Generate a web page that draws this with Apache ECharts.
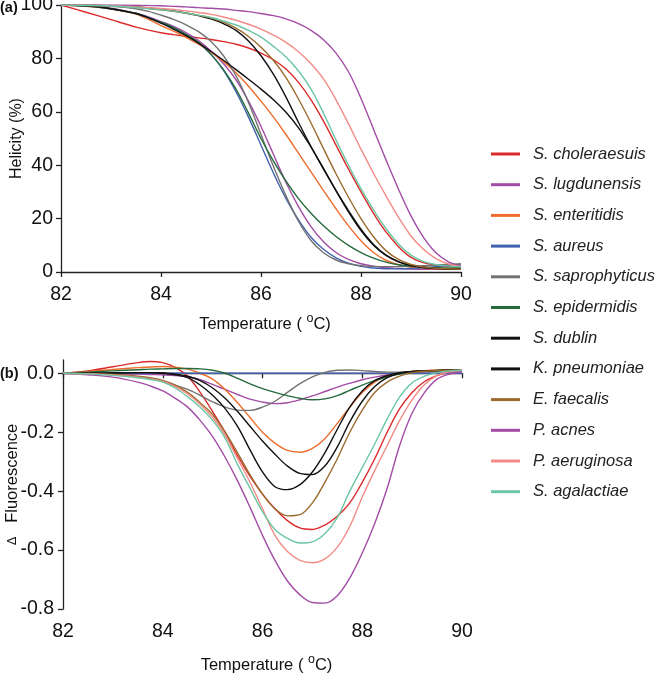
<!DOCTYPE html>
<html><head><meta charset="utf-8">
<script src="https://cdn.jsdelivr.net/npm/echarts@6/dist/echarts.min.js"></script>
<style>html,body{margin:0;padding:0;background:#fff}#c{width:657px;height:674px}</style>
</head><body><div id="c"></div>
<script>
// ---------- data ----------
const temperature = [82, 82.5, 83, 83.5, 83.75, 84, 84.25, 84.5, 84.75, 85, 85.25, 85.5, 85.75, 86, 86.25, 86.5, 86.75, 87, 87.25, 87.5, 87.75, 88, 88.25, 88.5, 88.75, 89, 89.25, 89.5, 89.75, 90];
const xTicks = [82, 84, 86, 88, 90];
const helicityTicks = [0, 20, 40, 60, 80, 100];
const fluorTicks = [-0.8, -0.6, -0.4, -0.2, 0];
const names = ['S. choleraesuis', 'S. lugdunensis', 'S. enteritidis', 'S. aureus', 'S. saprophyticus', 'S. epidermidis', 'S. dublin', 'K. pneumoniae', 'E. faecalis', 'P. acnes', 'P. aeruginosa', 'S. agalactiae'];
const colors = ['#dc2a2a', '#a24ca6', '#ee6c2c', '#4160ae', '#727272', '#256b3c', '#111111', '#111111', '#9c6a2e', '#a24ca6', '#f28b86', '#6cc6a4'];

// Helicity (%)
const helCholeraesuis = [100, 97.3, 94.5, 91.7, 90.6, 89.6, 88.9, 88.3, 87.7, 87.1, 86.3, 85.3, 83.9, 82, 79.5, 76, 71, 64.5, 56.5, 47.5, 38.5, 30, 22, 15, 9.5, 5.5, 3.5, 2.5, 2, 2];
const helLugdunensis = [100, 99.7, 98.8, 96.9, 95.5, 93.8, 92, 89.7, 86.7, 82.8, 78, 72, 64, 54.5, 44, 33.5, 24.5, 17, 11.3, 7.3, 4.7, 3.1, 2.2, 1.6, 1.3, 1.1, 1, 1, 1, 1];
const helEnteritidis = [100, 99.5, 98.5, 96.6, 94.6, 92.3, 90.2, 87.9, 85.3, 82.3, 78.8, 74.6, 69.6, 64, 58, 51.5, 44.5, 37.5, 30.5, 23.7, 17.3, 11.7, 7.3, 4.4, 2.7, 1.8, 1.4, 1.2, 1, 1];
const helAureus = [100, 99.6, 98.6, 96.8, 95.3, 93.5, 91.5, 89, 86, 81.5, 75.5, 67.5, 58, 47.5, 37, 27.5, 19.5, 13, 8.5, 5.3, 3.3, 2.1, 1.5, 1.2, 1.2, 1.3, 1.6, 2, 2.5, 3];
const helSaprophyticus = [100, 99.9, 99.5, 98.6, 97.6, 96.2, 94.6, 92.6, 90, 86.3, 81, 73.5, 63.5, 51.5, 39.5, 28.5, 19, 11.8, 7.2, 4.5, 3.1, 2.4, 2.1, 2, 2, 2.2, 2.4, 2.6, 2.8, 3];
const helEpidermidis = [100, 99.6, 98.6, 96.8, 95.3, 93.5, 91.5, 89, 86, 81.5, 75.8, 68.5, 59.5, 50, 41.5, 34, 27.5, 22, 17.3, 13.3, 10, 7.3, 5.2, 3.7, 2.7, 2.1, 1.8, 1.6, 1.5, 1.5];
const helDublin = [100, 99.8, 98.6, 96.8, 95.2, 93.2, 91, 88.5, 85.7, 82.6, 79.3, 75.8, 72.2, 68.5, 64.5, 59.8, 54, 46.8, 38.8, 30.5, 22.5, 15.5, 10, 6.2, 3.8, 2.4, 1.7, 1.3, 1.1, 1];
const helPneumoniae = [100, 99.9, 99.7, 99.3, 98.9, 98.4, 97.8, 97, 96, 94.8, 93, 90.5, 86.5, 81, 74, 65.5, 56, 47, 38.5, 30.5, 23, 16, 10.3, 6.3, 3.9, 2.5, 1.8, 1.4, 1.2, 1];
const helFaecalis = [100, 99.9, 99.6, 99.1, 98.7, 98.2, 97.6, 96.9, 96.1, 95.2, 93.6, 91.3, 88.2, 84.2, 79.2, 72.8, 64.8, 55.8, 46.2, 36.8, 28, 20, 13.2, 8, 4.7, 2.8, 1.9, 1.4, 1.2, 1];
const helAcnes = [100, 100, 100, 99.9, 99.8, 99.7, 99.5, 99.3, 99, 98.8, 98.5, 98, 97.5, 96.8, 96, 94.8, 93, 90.5, 87, 82, 75, 65, 53.5, 42, 31, 21, 13, 7.2, 3.8, 2.2];
const helAeruginosa = [100, 99.9, 99.7, 99.3, 99, 98.7, 98.3, 97.8, 97.2, 96.5, 95.5, 94.3, 92.8, 91, 88.7, 86, 82.5, 78, 72.3, 64.5, 55.5, 46, 37, 28.5, 20.5, 13.5, 8.5, 5, 3, 2];
const helAgalactiae = [100, 99.9, 99.6, 99, 98.6, 98.2, 97.7, 97, 96.2, 95.3, 94, 92.5, 90.5, 88, 84.5, 80.5, 75.3, 68.5, 59.5, 49.5, 40, 31.2, 23.3, 16.3, 10.5, 6.3, 3.9, 2.8, 2.2, 2];

// Delta fluorescence
const fluCholeraesuis = [0, 0.008, 0.022, 0.036, 0.04, 0.036, 0.02, -0.01, -0.065, -0.13, -0.2, -0.28, -0.35, -0.41, -0.46, -0.5, -0.525, -0.53, -0.515, -0.485, -0.44, -0.37, -0.29, -0.2, -0.12, -0.065, -0.028, -0.008, 0.003, 0.008];
const fluLugdunensis = [0, -0.001, -0.002, -0.003, -0.004, -0.005, -0.008, -0.012, -0.022, -0.038, -0.055, -0.072, -0.088, -0.098, -0.103, -0.1, -0.09, -0.077, -0.062, -0.047, -0.034, -0.022, -0.013, -0.006, -0.001, 0.003, 0.005, 0.006, 0.007, 0.008];
const fluEnteritidis = [0, 0.006, 0.013, 0.019, 0.021, 0.023, 0.021, 0.014, 0, -0.02, -0.055, -0.1, -0.15, -0.2, -0.237, -0.262, -0.268, -0.255, -0.222, -0.17, -0.115, -0.065, -0.03, -0.01, 0, 0.006, 0.009, 0.011, 0.012, 0.012];
const fluAureus = [0, 0, 0, 0, 0, 0, 0, 0, 0, 0, 0, 0, 0, 0, 0, 0, 0, 0, 0, 0, 0, 0, 0, 0, 0, 0, 0, 0, 0, 0];
const fluSaprophyticus = [0, -0.002, -0.005, -0.012, -0.018, -0.028, -0.04, -0.055, -0.075, -0.097, -0.115, -0.125, -0.126, -0.115, -0.095, -0.065, -0.035, -0.012, 0.003, 0.01, 0.011, 0.009, 0.006, 0.004, 0.004, 0.005, 0.006, 0.007, 0.008, 0.009];
const fluEpidermidis = [0, 0.004, 0.008, 0.012, 0.014, 0.015, 0.016, 0.016, 0.015, 0.01, 0, -0.017, -0.036, -0.052, -0.065, -0.076, -0.085, -0.09, -0.087, -0.076, -0.058, -0.04, -0.025, -0.012, -0.003, 0.003, 0.007, 0.01, 0.011, 0.012];
const fluDublin = [0, 0, 0.001, 0.002, 0.002, 0.001, -0.003, -0.01, -0.025, -0.05, -0.085, -0.13, -0.18, -0.23, -0.275, -0.315, -0.34, -0.344, -0.315, -0.25, -0.165, -0.095, -0.045, -0.015, 0, 0.006, 0.008, 0.009, 0.01, 0.01];
const fluPneumoniae = [0, 0, 0.001, 0.002, 0.002, 0, -0.005, -0.015, -0.04, -0.075, -0.12, -0.18, -0.26, -0.335, -0.385, -0.395, -0.378, -0.335, -0.27, -0.19, -0.115, -0.06, -0.025, -0.008, 0.002, 0.006, 0.008, 0.009, 0.01, 0.01];
const fluFaecalis = [0, -0.001, -0.004, -0.01, -0.015, -0.024, -0.04, -0.065, -0.1, -0.14, -0.2, -0.27, -0.345, -0.41, -0.46, -0.484, -0.48, -0.44, -0.37, -0.29, -0.2, -0.125, -0.065, -0.03, -0.01, 0.002, 0.007, 0.009, 0.01, 0.011];
const fluAcnes = [0, -0.005, -0.013, -0.03, -0.043, -0.06, -0.085, -0.115, -0.16, -0.215, -0.285, -0.365, -0.455, -0.55, -0.635, -0.705, -0.752, -0.778, -0.78, -0.755, -0.695, -0.61, -0.51, -0.39, -0.245, -0.135, -0.065, -0.02, -0.003, 0.005];
const fluAeruginosa = [0, -0.002, -0.006, -0.013, -0.019, -0.028, -0.045, -0.07, -0.105, -0.15, -0.21, -0.29, -0.37, -0.46, -0.55, -0.605, -0.635, -0.643, -0.63, -0.59, -0.52, -0.42, -0.33, -0.245, -0.16, -0.09, -0.038, -0.008, 0.005, 0.01];
const fluAgalactiae = [0, -0.002, -0.007, -0.015, -0.021, -0.03, -0.05, -0.08, -0.115, -0.16, -0.22, -0.31, -0.39, -0.47, -0.53, -0.56, -0.576, -0.572, -0.545, -0.49, -0.4, -0.32, -0.24, -0.155, -0.08, -0.032, -0.01, 0.002, 0.008, 0.01];

const helicitySets = [helCholeraesuis, helLugdunensis, helEnteritidis, helAureus, helSaprophyticus, helEpidermidis, helDublin, helPneumoniae, helFaecalis, helAcnes, helAeruginosa, helAgalactiae];
const fluorSets = [fluCholeraesuis, fluLugdunensis, fluEnteritidis, fluAureus, fluSaprophyticus, fluEpidermidis, fluDublin, fluPneumoniae, fluFaecalis, fluAcnes, fluAeruginosa, fluAgalactiae];

// ---------- chart ----------
const FONT = 'Liberation Sans, Arial, Helvetica, sans-serif';
const INK = '#111';
const axisLine = {show: true, lineStyle: {color: '#222', width: 1.3}};
const axisTick = {show: true, length: 5, inside: false, lineStyle: {color: '#222', width: 1.3}};

const chart = echarts.init(document.getElementById('c'), null, {renderer: 'canvas'});

const series = [];
names.forEach((n, i) => {
  series.push({
    type: 'line', name: n, xAxisIndex: 0, yAxisIndex: 0,
    data: temperature.map((t, k) => [t, helicitySets[i][k]]),
    smooth: 0.35, showSymbol: false, symbol: 'none',
    lineStyle: {width: 1.4, color: colors[i]}, itemStyle: {color: colors[i]}
  });
  series.push({
    type: 'line', name: n, xAxisIndex: 1, yAxisIndex: 1,
    data: temperature.map((t, k) => [t, fluorSets[i][k]]),
    smooth: 0.35, showSymbol: false, symbol: 'none',
    lineStyle: {width: 1.4, color: colors[i]}, itemStyle: {color: colors[i]}
  });
});

const tempName = 'Temperature ( {s|o}C)';
const tempNameStyle = {fontSize: 16.5, color: INK, fontFamily: FONT, lineHeight: 24, padding: [0, 0, 0, 8],
  rich: {s: {fontSize: 12.5, lineHeight: 12, verticalAlign: 'top', color: INK, fontFamily: FONT}}};
const tickFont = 19.5;

chart.setOption({
  animation: false,
  textStyle: {fontFamily: FONT},
  grid: [
    {left: 61, top: 5, width: 400, height: 267, containLabel: false, outerBoundsMode: 'none'},
    {left: 63, top: 360, width: 399, height: 249, containLabel: false, outerBoundsMode: 'none'}
  ],
  xAxis: [
    {gridIndex: 0, type: 'value', min: 82, max: 90, interval: 2,
     axisLine, axisTick, splitLine: {show: false},
     axisLabel: {fontSize: tickFont, color: INK, margin: 13, fontFamily: FONT, customValues: xTicks},
     name: tempName, nameLocation: 'middle', nameGap: 40, nameMoveOverlap: false, nameTextStyle: tempNameStyle},
    {gridIndex: 1, type: 'value', min: 82, max: 90, interval: 2,
     axisLine, axisTick, splitLine: {show: false},
     axisLabel: {fontSize: tickFont, color: INK, margin: 13, fontFamily: FONT, customValues: xTicks},
     name: tempName, nameLocation: 'middle', nameGap: 44, nameMoveOverlap: false, nameTextStyle: tempNameStyle}
  ],
  yAxis: [
    {gridIndex: 0, type: 'value', min: 0, max: 100, interval: 20,
     axisLine, axisTick: Object.assign({}, axisTick, {customValues: helicityTicks}), splitLine: {show: false},
     axisLabel: {fontSize: tickFont, color: INK, margin: 8, fontFamily: FONT, customValues: helicityTicks},
     name: 'Helicity (%)', nameLocation: 'middle', nameGap: 36, nameMoveOverlap: false,
     nameTextStyle: {fontSize: 16, color: INK, fontFamily: FONT}},
    {gridIndex: 1, type: 'value', min: -0.8, max: 0.045,
     axisLine, axisTick: Object.assign({}, axisTick, {customValues: fluorTicks}), splitLine: {show: false},
     axisLabel: {fontSize: tickFont, color: INK, margin: 9, fontFamily: FONT, customValues: fluorTicks,
       formatter: v => (Math.abs(v) < 1e-9 ? 0 : v).toFixed(1)},
     name: '{d|Δ}   Fluorescence', nameLocation: 'middle', nameGap: 42, nameMoveOverlap: false,
     nameTextStyle: {fontSize: 16.5, color: INK, fontFamily: FONT,
       rich: {d: {fontSize: 13, color: INK, fontFamily: FONT}}}}
  ],
  legend: {
    orient: 'vertical', left: 486, top: 139, itemWidth: 29, itemHeight: 3, itemGap: 10.7,
    icon: 'rect', data: names, selectedMode: false,
    textStyle: {fontSize: 16.5, fontStyle: 'italic', color: '#222', fontFamily: FONT, lineHeight: 20, padding: [0, 0, 0, 8]}
  },
  graphic: [
    {type: 'text', left: 0, top: 0, style: {text: '(a)', fontSize: 14.5, fontWeight: 'bold', fontFamily: FONT, fill: INK}},
    {type: 'text', left: 0, top: 366, style: {text: '(b)', fontSize: 14.5, fontWeight: 'bold', fontFamily: FONT, fill: INK}}
  ],
  series
});
</script>
</body></html>
